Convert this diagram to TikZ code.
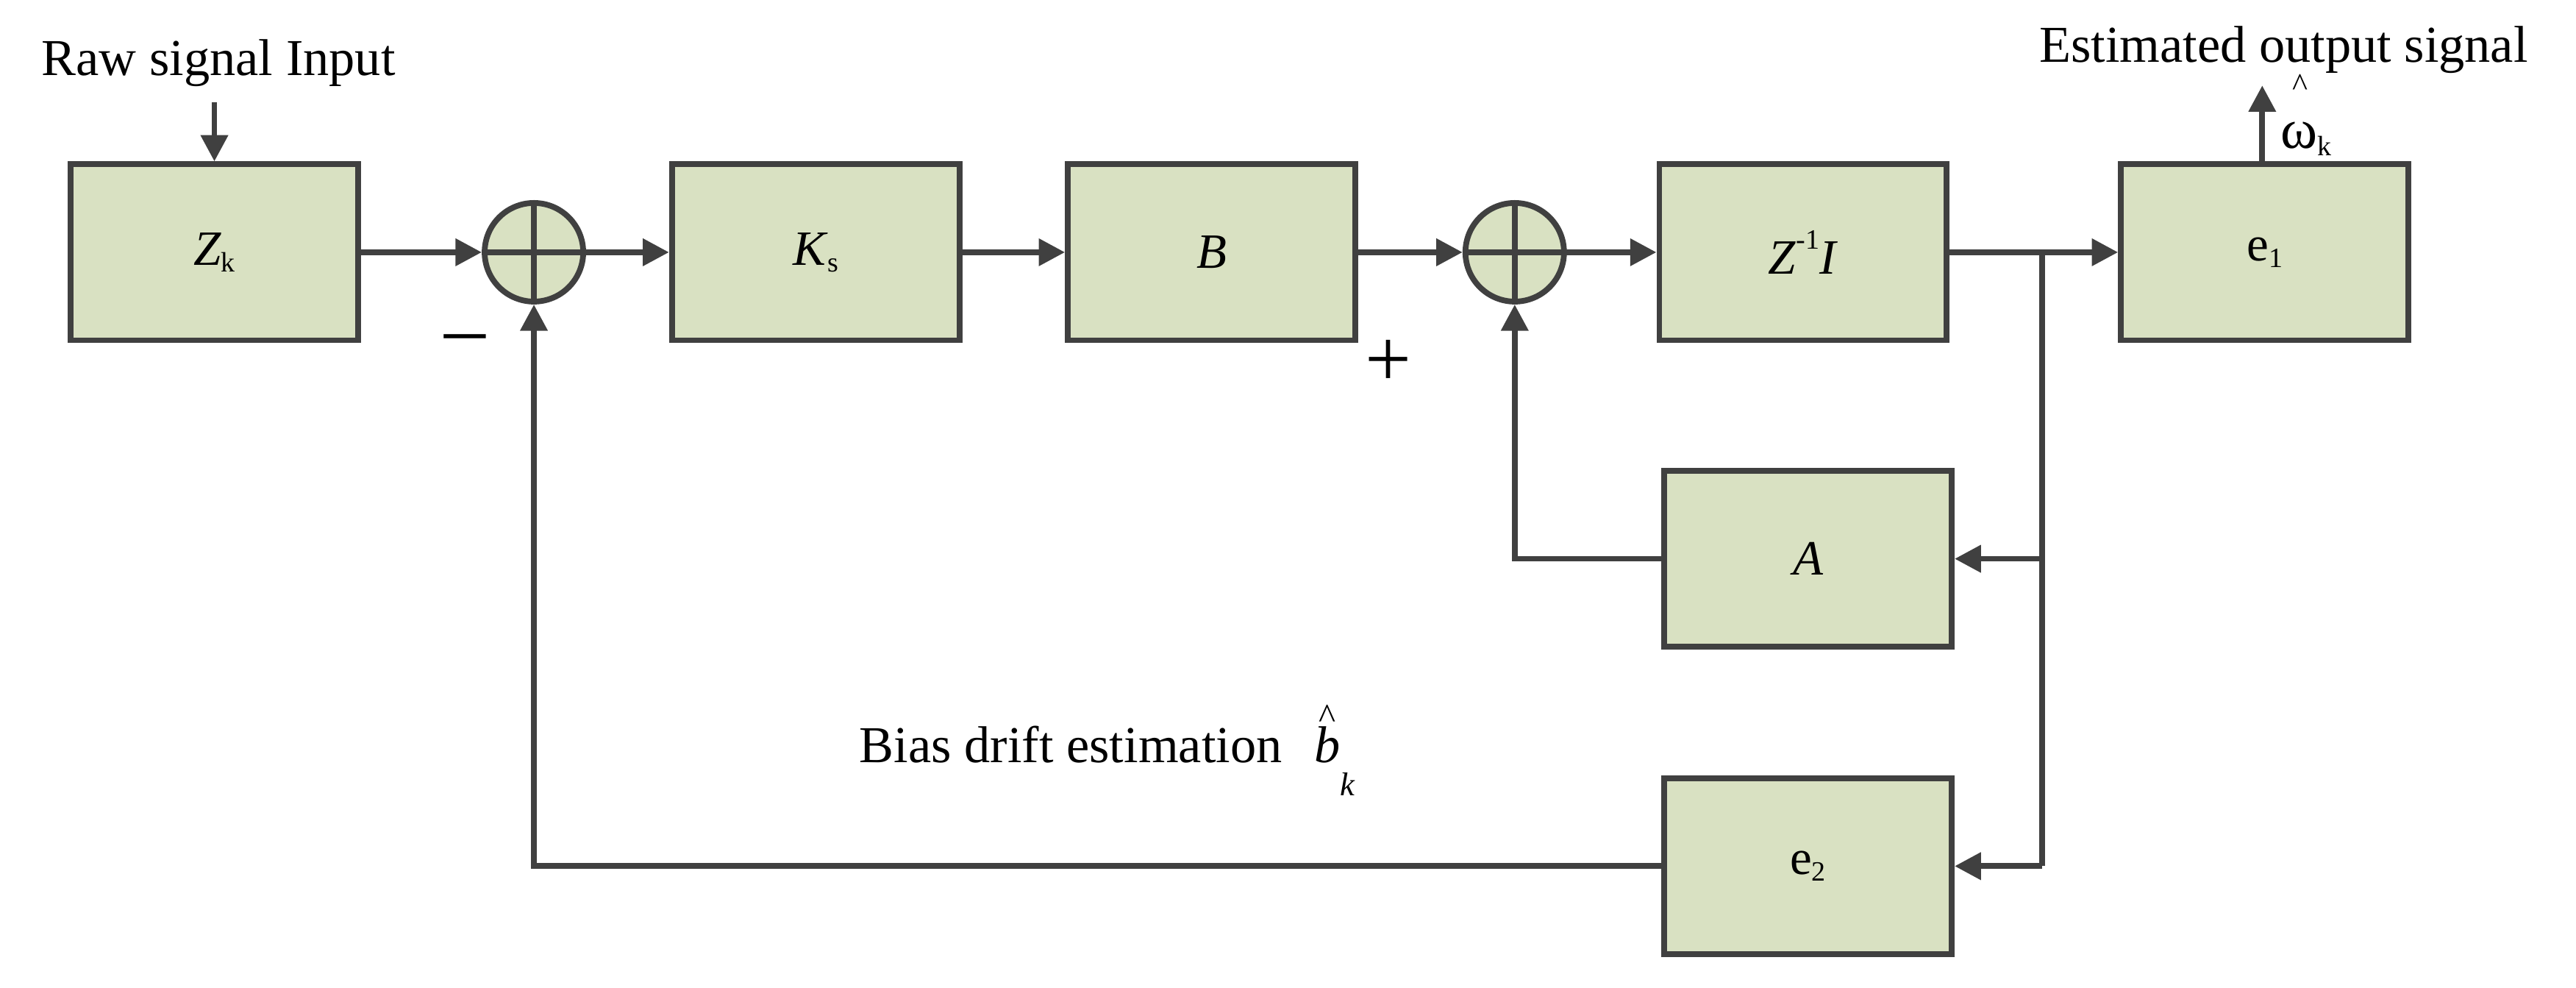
\documentclass[tikz,border=0pt]{standalone}
\usepackage{fontspec}
\setmainfont{Liberation Serif}
\usetikzlibrary{arrows.meta}
\definecolor{ln}{HTML}{404040}
\definecolor{bf}{HTML}{D9E1C2}
\newcommand{\sbs}[1]{\raisebox{-0.3ex}{\fontsize{17}{17}\selectfont #1}}
\begin{document}
\begin{tikzpicture}[x=1pt,y=-1pt,
  blk/.style={draw=ln,line width=3.5pt,fill=bf,minimum width=175pt,minimum height=107pt,inner sep=0pt,font=\fontsize{30}{34}\selectfont},
  sum/.style={draw=ln,line width=3.5pt,fill=bf,circle,minimum size=60pt,inner sep=0pt},
  con/.style={draw=ln,line width=3.5pt,-{Triangle[length=16pt,width=16pt]}},
  ln/.style={draw=ln,line width=3.5pt},
  txt/.style={font=\fontsize{31.5}{34}\selectfont,inner sep=0pt}]
\useasboundingbox (0,0) rectangle (1568,601);
\node[blk] (zk) at (130.5,153.5) {\textit{Z}\sbs{k}};
\node[sum] (s1) at (325,153.5) {};
\draw[ln] (s1.west)--(s1.east) (s1.north)--(s1.south);
\node[blk] (ks) at (496.5,153.5) {\textit{K}\sbs{s}};
\node[blk] (b) at (737.5,153.5) {\textit{B}};
\node[sum] (s2) at (922,153.5) {};
\draw[ln] (s2.west)--(s2.east) (s2.north)--(s2.south);
\node[blk] (zi) at (1097.5,153.5) {\textit{Z}\raisebox{1.1ex}{\fontsize{17}{17}\selectfont -1}\textit{I}};
\node[blk] (e1) at (1378.5,153.5) {e\sbs{1}};
\node[blk] (a) at (1100.5,340) {\textit{A}};
\node[blk] (e2) at (1100.5,527) {e\sbs{2}};
\coordinate (br) at (1243,153.5);
\node[txt,anchor=base] (raw) at (133,46) {Raw signal Input};
\coordinate (rawend) at (130.5,62);
\node[txt,anchor=base] (est) at (1390,38) {Estimated output signal};
\coordinate (outend) at (1377,52);
\node[font=\fontsize{34}{34}\selectfont,anchor=base west,inner sep=0pt] (om) at (1388,90) {ω\sbs{k}};
\node[font=\fontsize{20}{20}\selectfont,inner sep=0pt] (hat) at (1400,52) {\^{}};
\node[txt,anchor=base west] (bias) at (523,464) {Bias drift estimation};
\node[txt,anchor=base west] (bk) at (800,464) {\textit{b}\raisebox{-1.4ex}{\fontsize{20}{20}\selectfont\textit{k}}};
\node[font=\fontsize{22}{22}\selectfont,inner sep=0pt] (bhat) at (808,436) {\^{}};
\node[font=\fontsize{50}{50}\selectfont,inner sep=0pt] (minus) at (283,210) {–};
\node[font=\fontsize{50}{50}\selectfont,inner sep=0pt] (plus) at (845,221) {+};
\draw[con] (rawend) -- (zk.north);
\draw[con] (zk) -- (s1);
\draw[con] (s1) -- (ks);
\draw[con] (ks) -- (b);
\draw[con] (b) -- (s2);
\draw[con] (s2) -- (zi);
\draw[con] (zi) -- (e1);
\draw[con] (e1.north -| outend) -- (outend);
\draw[ln] (br) -- (br |- e2);
\draw[con] (br |- a) -- (a.east);
\draw[con] (br |- e2) -- (e2.east);
\draw[con] (a.west) -| (s2.south);
\draw[con] (e2.west) -| (s1.south);
\end{tikzpicture}
\end{document}
